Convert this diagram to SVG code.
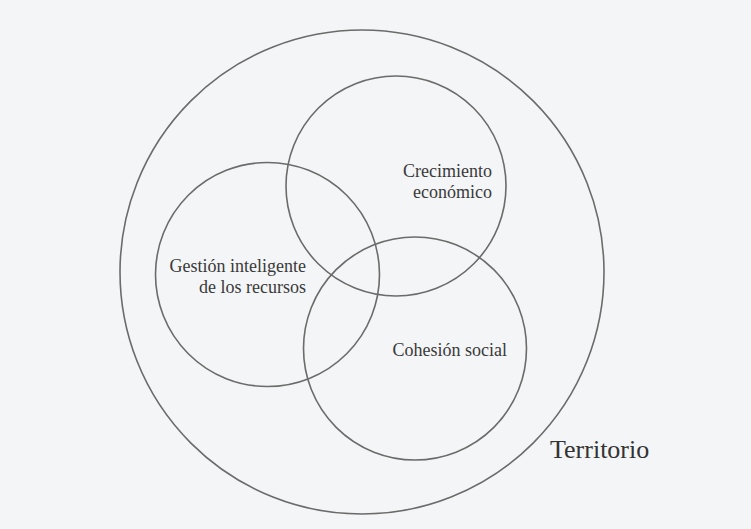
<svg xmlns="http://www.w3.org/2000/svg" width="751" height="529" viewBox="0 0 751 529">
<style>
.c{fill:none;stroke:#6b6b6b;stroke-width:1.6}
.t{font-family:"Liberation Serif","Times New Roman",serif;font-size:18px;fill:#3a3a3a;text-anchor:end}
.big{font-family:"Liberation Serif","Times New Roman",serif;font-size:26px;fill:#333}
</style>
<rect width="751" height="529" fill="#f4f5f6"/>
<g id="territorio">
<circle class="c" cx="362" cy="272" r="242"/>
<text class="big" x="550" y="458">Territorio</text>
</g>
<g id="crecimiento">
<circle class="c" cx="396" cy="186" r="110"/>
<text class="t" x="492" y="177">Crecimiento</text>
<text class="t" x="492" y="198">económico</text>
</g>
<g id="gestion">
<circle class="c" cx="267.5" cy="274.5" r="112"/>
<text class="t" x="306" y="272">Gestión inteligente</text>
<text class="t" x="306" y="293">de los recursos</text>
</g>
<g id="cohesion">
<circle class="c" cx="415" cy="348.5" r="111.5"/>
<text class="t" x="507" y="356">Cohesión social</text>
</g>
<g id="connectors"/>
</svg>
